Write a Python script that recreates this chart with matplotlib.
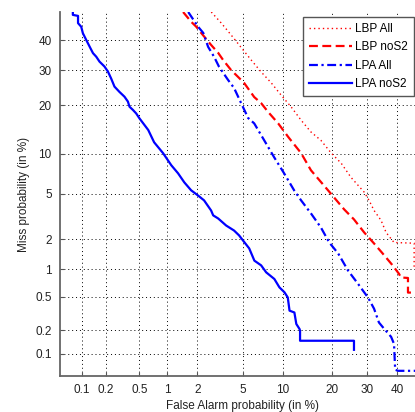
import matplotlib
matplotlib.use("Agg")
import matplotlib.pyplot as plt
import numpy as np
from statistics import NormalDist

# DET curves, values in percent
lbp_all_fa = [2.7, 3.3, 4.02, 5.05, 5.86, 6.98, 8.28, 9.74, 11.4, 13.2, 15.2, 17.4,
              19.9, 22.5, 25.2, 29.2, 30.7, 32.3, 34.6, 36.3, 39.0, 46.1, 46.1, 49.0]
lbp_all_miss = [50.0, 46.1, 41.8, 36.6, 33.2, 29.4, 26.1, 22.6, 19.5, 16.4, 13.9, 12.3,
                10.1, 8.58, 6.76, 5.16, 4.43, 3.64, 2.98, 2.31, 1.86, 1.83, 1.02, 1.02]

lbp_nos2_fa = [1.46, 1.75, 1.96, 2.18, 2.69, 3.11, 3.44, 4.02, 5.14, 6.18, 6.98, 7.87,
               9.28, 10.9, 13.2, 15.2, 19.1, 23.3, 26.1, 29.2, 32.3, 34.9, 38.3, 40.7,
               41.4, 43.9, 43.9, 49.0]
lbp_nos2_miss = [50.0, 46.5, 44.7, 42.5, 38.3, 35.6, 33.2, 30.0, 26.1, 22.1, 20.5, 18.3,
                 15.7, 12.9, 10.1, 7.62, 5.35, 3.72, 3.04, 2.31, 1.82, 1.48, 1.12, 0.90,
                 0.82, 0.81, 0.56, 0.56]

lpa_all_fa = [1.64, 2.04, 2.28, 2.53, 2.87, 3.17, 3.80, 4.26, 4.87, 5.54, 6.18, 7.36,
              8.69, 10.2, 11.9, 13.2, 15.2, 17.4, 19.4, 21.7, 24.4, 27.3, 30.4, 32.3,
              33.9, 35.6, 38.0, 39.0, 39.4, 40.4, 49.0]
lpa_all_miss = [50.0, 44.7, 42.5, 37.6, 34.2, 31.0, 26.9, 24.6, 20.5, 16.9, 15.7, 12.3,
                9.46, 7.24, 5.35, 4.43, 3.43, 2.57, 1.86, 1.45, 0.97, 0.70, 0.49, 0.366,
                0.25, 0.21, 0.166, 0.135, 0.061, 0.059, 0.059]

lpa_nos2_fa = [0.075, 0.075, 0.088, 0.088, 0.097, 0.102, 0.113, 0.125, 0.138, 0.152,
               0.167, 0.193, 0.213, 0.233, 0.256, 0.294, 0.337, 0.37, 0.386, 0.423,
               0.461, 0.503, 0.63, 0.73, 0.91, 1.11, 1.30, 1.50, 1.75, 2.03, 2.32,
               2.69, 2.81, 3.11, 3.65, 4.26, 4.69, 5.05, 5.65, 6.2, 6.98, 7.61, 8.72,
               9.47, 10.26, 10.8, 11.1, 11.95, 12.3, 12.9, 13.0, 13.0, 26.1, 26.1]
lpa_nos2_miss = [50.0, 48.96, 48.6, 46.0, 44.7, 42.4, 40.0, 37.7, 35.5, 34.3,
                 32.7, 31.1, 29.5, 27.4, 25.0, 23.5, 22.2, 20.9, 19.6, 18.8,
                 17.96, 16.8, 14.3, 11.95, 10.1, 8.29, 7.24, 6.18, 5.35, 4.87, 4.43,
                 3.64, 3.30, 3.10, 2.68, 2.41, 2.17, 1.94, 1.63, 1.23, 1.10, 0.93, 0.79,
                 0.64, 0.564, 0.494, 0.347, 0.33, 0.24, 0.208, 0.198, 0.148, 0.148, 0.113]

tick_values = [0.1, 0.2, 0.5, 1, 2, 5, 10, 20, 30, 40]
tick_labels = ['0.1', '0.2', '0.5', '1', '2', '5', '10', '20', '30', '40']

_inv = np.vectorize(NormalDist().inv_cdf)


def probit(pct):
    """Map percentages onto the normal deviate scale of a DET plot."""
    return _inv(np.asarray(pct, dtype=float) / 100.0)


plt.rcParams['font.family'] = ['Liberation Sans', 'DejaVu Sans']

fig = plt.figure(figsize=(4.15, 4.12), dpi=100)
ax = fig.add_axes([60 / 415, 36 / 412, 365 / 415, 364 / 412])

ax.plot(probit(lbp_all_fa), probit(lbp_all_miss), color='red', lw=1.0,
        dashes=(1, 2.2), label='LBP All')
ax.plot(probit(lbp_nos2_fa), probit(lbp_nos2_miss), color='red', lw=1.6,
        dashes=(4, 2), label='LBP noS2')
ax.plot(probit(lpa_all_fa), probit(lpa_all_miss), color='blue', lw=1.6,
        dashes=(4, 1.6, 1, 1.6), label='LPA All')
ax.plot(probit(lpa_nos2_fa), probit(lpa_nos2_miss), color='blue', lw=1.6,
        label='LPA noS2')

ax.set_xlim(probit(0.05), probit(50))
ax.set_ylim(probit(0.05), probit(50))

ax.set_xticks(probit(tick_values))
ax.set_xticklabels(tick_labels)
ax.set_yticks(probit(tick_values))
ax.set_yticklabels(tick_labels)

ax.grid(True, color='black', linestyle=(0, (1, 3)), lw=0.7)
ax.tick_params(direction='in', length=3, width=0.8, color='#555555',
               labelsize=8.5, labelcolor='#222222', pad=6)
ax.spines['top'].set_visible(False)
ax.spines['right'].set_visible(False)
for side in ('left', 'bottom'):
    ax.spines[side].set_color('#666666')
    ax.spines[side].set_linewidth(1.3)

ax.set_xlabel('False Alarm probability (in %)', fontsize=8.5, color='#222222',
              labelpad=3)
ax.set_ylabel('Miss probability (in %)', fontsize=8.5, color='#222222',
              labelpad=4)

leg = ax.legend(loc='upper right', bbox_to_anchor=(414 / 415, 1 - 17 / 412),
                bbox_transform=fig.transFigure, borderaxespad=0,
                fontsize=8.5, handlelength=3.6, handletextpad=0.3,
                labelspacing=0.55, fancybox=False, framealpha=1,
                borderpad=0.5)
leg.get_frame().set_edgecolor('#555555')
leg.get_frame().set_linewidth(1.0)

fig.savefig('out.png', dpi=100)
